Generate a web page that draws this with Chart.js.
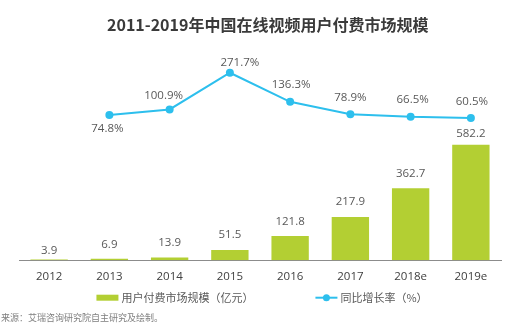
<!DOCTYPE html>
<html>
<head>
<meta charset="utf-8">
<script src="https://cdn.jsdelivr.net/npm/chart.js@4.4.1/dist/chart.umd.min.js"></script>
<style>
  html, body { margin: 0; padding: 0; background: #fff; }
  #wrap { position: relative; width: 516px; height: 328px; overflow: hidden; }
  #paidChart { position: absolute; left: 0; top: 0; }
  #title {
    position: absolute; left: 107px; top: 12px; white-space: nowrap;
    font: bold 16px/24px "Noto Sans CJK SC", sans-serif; color: #3a3a3a;
  }
  #source {
    position: absolute; left: 1px; top: 311.5px; white-space: nowrap;
    font: 9px/12px "Noto Sans CJK SC", sans-serif; color: #7f7f7f;
  }
</style>
</head>
<body>
<div id="wrap">
  <canvas id="paidChart" width="516" height="328"></canvas>
  <div id="title">2011-2019年中国在线视频用户付费市场规模</div>
  <div id="source">来源：艾瑞咨询研究院自主研究及绘制。</div>
</div>
<script>
const years = ['2012', '2013', '2014', '2015', '2016', '2017', '2018e', '2019e'];
const marketSize = [3.9, 6.9, 13.9, 51.5, 121.8, 217.9, 362.7, 582.2];   // 亿元
const growthRate = [null, 74.8, 100.9, 271.7, 136.3, 78.9, 66.5, 60.5];   // %
const seriesNames = ['用户付费市场规模（亿元）', '同比增长率（%）'];

// label nudges (px) relative to each mark
const barLabelDy = [-9, -14, -15, -15, -14, -15, -15, -11];
const rateLabelDx = [0, -2, -6, 10, 1, 0, 2, 1];
const rateLabelDy = [0, 14, -14, -10, -17, -16, -17, -16];

const barColor = '#b3cf33';
const lineColor = '#2dbfed';
const numFont = '"Open Sans", "Noto Sans CJK SC", sans-serif';

Chart.defaults.font.family = numFont;

// numbers above bars and next to the growth points
const valueLabels = {
    id: 'valueLabels',
    afterDatasetsDraw(chart) {
        const c = chart.ctx;
        c.save();
        c.font = '11.5px ' + numFont;
        c.fillStyle = '#595959';
        c.textAlign = 'center';
        c.textBaseline = 'middle';
        chart.getDatasetMeta(0).data.forEach((bar, i) => {
            c.fillText(marketSize[i].toFixed(1), bar.x, bar.y + barLabelDy[i]);
        });
        chart.getDatasetMeta(1).data.forEach((pt, i) => {
            if (growthRate[i] == null) return;
            c.fillText(growthRate[i].toFixed(1) + '%', pt.x + rateLabelDx[i], pt.y + rateLabelDy[i]);
        });
        c.restore();
    }
};

// one-row legend under the axis: green block, then line-with-dot
const bottomLegend = {
    id: 'bottomLegend',
    afterDraw(chart) {
        const c = chart.ctx;
        const area = chart.chartArea;
        const y = area.bottom + 37.5;
        const markW = 22, textGap = 3, itemGap = 62;
        c.save();
        c.font = '11px "Noto Sans CJK SC", sans-serif';
        c.textBaseline = 'middle';
        const w0 = c.measureText(seriesNames[0]).width;
        const w1 = c.measureText(seriesNames[1]).width;
        const total = markW + textGap + w0 + itemGap + markW + textGap + w1;
        let x = (area.left + area.right) / 2 - total / 2 + 2;

        const ds = chart.data.datasets;
        c.fillStyle = ds[0].backgroundColor;
        c.fillRect(x, y - 3, markW, 6);
        x += markW + textGap;
        c.fillStyle = '#595959';
        c.fillText(seriesNames[0], x, y);
        x += w0 + itemGap;

        c.strokeStyle = ds[1].borderColor;
        c.lineWidth = 2;
        c.beginPath();
        c.moveTo(x, y);
        c.lineTo(x + markW, y);
        c.stroke();
        c.fillStyle = ds[1].borderColor;
        c.beginPath();
        c.arc(x + markW / 2, y, 3.5, 0, Math.PI * 2);
        c.fill();
        x += markW + textGap;
        c.fillStyle = '#595959';
        c.fillText(seriesNames[1], x, y);
        c.restore();
    }
};

const ctx = document.getElementById('paidChart').getContext('2d');

new Chart(ctx, {
    type: 'bar',
    data: {
        labels: years,
        datasets: [{
            label: seriesNames[0],
            data: marketSize,
            backgroundColor: barColor,
            borderWidth: 0,
            barPercentage: 0.62,
            categoryPercentage: 1,
            yAxisID: 'y',
            order: 2
        }, {
            type: 'line',
            label: seriesNames[1],
            data: growthRate,
            borderColor: lineColor,
            backgroundColor: lineColor,
            borderWidth: 2,
            pointRadius: 4,
            pointBorderWidth: 0,
            pointBackgroundColor: lineColor,
            tension: 0,
            yAxisID: 'y1',
            order: 1
        }]
    },
    options: {
        responsive: false,
        animation: false,
        layout: { padding: { left: 19, right: 15, top: 60, bottom: 34 } },
        plugins: {
            legend: { display: false },
            tooltip: { enabled: false }
        },
        scales: {
            x: {
                grid: { display: false, drawTicks: false },
                border: { display: true, color: '#8c8c8c', width: 1 },
                ticks: {
                    color: '#404040',
                    font: { size: 11.5 },
                    padding: 10
                }
            },
            y: { display: false, min: 0, max: 1010 },
            y1: { display: false, min: -601, max: 331 }
        }
    },
    plugins: [valueLabels, bottomLegend]
});
</script>
</body>
</html>
